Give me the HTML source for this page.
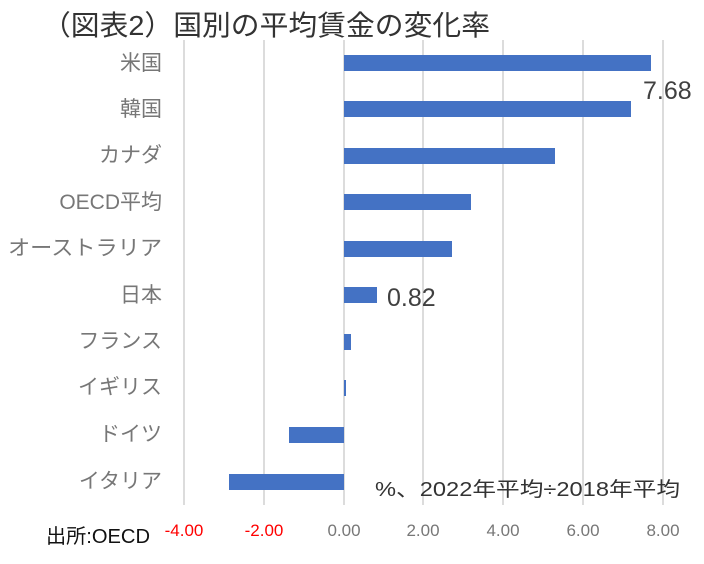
<!DOCTYPE html>
<html><head><meta charset="utf-8"><style>
body{margin:0;background:#fff;}
svg text{font-family:"Liberation Sans","Noto Sans CJK JP",sans-serif;}
</style></head><body>
<svg width="704" height="559" xmlns="http://www.w3.org/2000/svg">
<rect width="704" height="559" fill="#fff"/>
<text x="42" y="35" font-size="28" fill="#333" textLength="448" lengthAdjust="spacingAndGlyphs">（図表2）国別の平均賃金の変化率</text>
<g stroke="#d0d0d0" stroke-width="1.5">
<line x1="184" y1="40" x2="184" y2="505"/>
<line x1="264" y1="40" x2="264" y2="505"/>
<line x1="344" y1="40" x2="344" y2="505"/>
<line x1="423" y1="40" x2="423" y2="505"/>
<line x1="503" y1="40" x2="503" y2="505"/>
<line x1="583" y1="40" x2="583" y2="505"/>
<line x1="663" y1="40" x2="663" y2="505"/>
</g>
<g fill="#4472c4">
<rect x="344" y="55" width="307" height="16"/>
<rect x="344" y="101" width="287" height="16"/>
<rect x="344" y="148" width="211" height="16"/>
<rect x="344" y="194" width="127" height="16"/>
<rect x="344" y="241" width="108" height="16"/>
<rect x="344" y="287" width="33" height="16"/>
<rect x="344" y="334" width="7" height="16"/>
<rect x="344" y="380" width="2" height="16"/>
<rect x="289" y="427" width="55" height="16"/>
<rect x="229" y="474" width="115" height="16"/>
</g>
<g font-size="21" fill="#777" text-anchor="end">
<text x="162" y="70">米国</text>
<text x="162" y="116">韓国</text>
<text x="162" y="162">カナダ</text>
<text x="162" y="209">OECD平均</text>
<text x="162" y="255" textLength="154" lengthAdjust="spacingAndGlyphs">オーストラリア</text>
<text x="162" y="302">日本</text>
<text x="162" y="348">フランス</text>
<text x="162" y="394">イギリス</text>
<text x="162" y="441">ドイツ</text>
<text x="162" y="488">イタリア</text>
</g>
<g font-size="17" text-anchor="middle">
<text x="184" y="536" fill="#ff0000">-4.00</text>
<text x="264" y="536" fill="#ff0000">-2.00</text>
<text x="344" y="536" fill="#777">0.00</text>
<text x="423" y="536" fill="#777">2.00</text>
<text x="503" y="536" fill="#777">4.00</text>
<text x="583" y="536" fill="#777">6.00</text>
<text x="663" y="536" fill="#777">8.00</text>
</g>
<text x="643" y="99" font-size="25" fill="#404040">7.68</text>
<text x="387" y="306" font-size="25" fill="#404040">0.82</text>
<text x="375" y="496" font-size="20" fill="#333" textLength="305" lengthAdjust="spacingAndGlyphs">%、2022年平均÷2018年平均</text>
<text x="46" y="543" font-size="20" fill="#111" textLength="104" lengthAdjust="spacingAndGlyphs">出所:OECD</text>
</svg>
</body></html>
